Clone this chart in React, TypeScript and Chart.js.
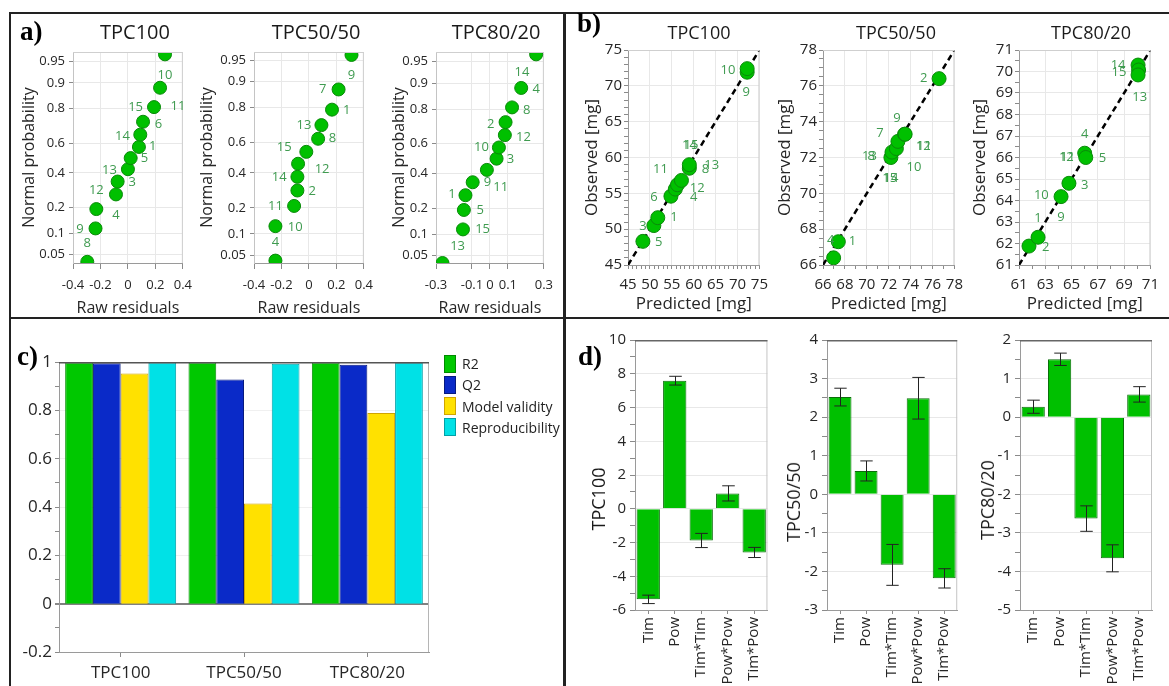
import { useEffect, useRef } from 'react';
import { Chart, registerables } from 'chart.js';

Chart.register(...registerables);

const FONT = "'Open Sans', 'Noto Sans', 'DejaVu Sans', sans-serif";
const SERIF = "'Liberation Serif', 'DejaVu Serif', serif";
const GREEN = '#00c000';
const GREEN_EDGE = '#0a8a0a';
const LABEL_GREEN = '#3f9b50';
const GRID = '#e8e8e8';
const AXIS = '#9a9a9a';
const TICK = '#8a8a8a';
const TXT = '#262626';

// ---------------- a) normal probability plots ----------------
const npTickZ = [-1.645, -1.282, -0.842, -0.253, 0.253, 0.842, 1.282, 1.645];
const npTickLabels = ['0.05', '0.1', '0.2', '0.4', '0.6', '0.8', '0.9', '0.95'];

const np100Resid = [-0.296, -0.236, -0.23, -0.087, -0.075, 0.0, 0.02, 0.08, 0.09, 0.11, 0.19, 0.234, 0.27];
const np100Quant = [-1.77, -1.2, -0.87, -0.62, -0.4, -0.19, 0, 0.19, 0.4, 0.62, 0.87, 1.2, 1.77];
const np100LabelText = ['10', '11', '15', '6', '14', '1', '5', '13', '3', '12', '4', '9', '8'];
const np100LabelX = [0.27, 0.365, 0.056, 0.222, -0.04, 0.18, 0.12, -0.134, 0.032, -0.23, -0.087, -0.35, -0.296];
const np100LabelZ = [1.41, 0.88, 0.86, 0.57, 0.37, 0.2, -0.01, -0.21, -0.42, -0.55, -0.98, -1.21, -1.45];

const np5050Resid = [-0.244, -0.244, -0.108, -0.084, -0.084, -0.079, -0.019, 0.067, 0.091, 0.168, 0.216, 0.31];
const np5050Quant = [-1.73, -1.15, -0.81, -0.55, -0.32, -0.1, 0.1, 0.32, 0.55, 0.81, 1.15, 1.73];
const np5050LabelText = ['9', '7', '1', '13', '8', '15', '12', '14', '2', '11', '10', '4'];
const np5050LabelX = [0.31, 0.1, 0.275, -0.036, 0.172, -0.18, 0.096, -0.216, 0.024, -0.244, -0.1, -0.244];
const np5050LabelZ = [1.38, 1.16, 0.8, 0.54, 0.32, 0.17, -0.19, -0.33, -0.57, -0.82, -1.17, -1.42];

const np8020Resid = [-0.264, -0.15, -0.145, -0.136, -0.096, -0.017, 0.037, 0.05, 0.083, 0.087, 0.123, 0.174, 0.257];
const np8020Quant = [-1.77, -1.2, -0.87, -0.62, -0.4, -0.19, 0, 0.19, 0.4, 0.62, 0.87, 1.2, 1.77];
const np8020LabelText = ['14', '4', '8', '2', '12', '10', '3', '9', '11', '1', '5', '15', '13'];
const np8020LabelX = [0.178, 0.257, 0.205, 0.005, 0.187, -0.047, 0.114, -0.014, 0.06, -0.211, -0.054, -0.041, -0.18];
const np8020LabelZ = [1.47, 1.17, 0.82, 0.59, 0.37, 0.2, -0.01, -0.4, -0.48, -0.61, -0.87, -1.2, -1.49];

const npXTicksWide = [-0.4, -0.2, 0, 0.2, 0.4];
const npXTicks8020 = [-0.3, -0.1, 0, 0.1, 0.3];

// ---------------- b) observed vs predicted ----------------
const op100Range = [45, 75];
const op100Pred = [48.4, 50.9, 51.8, 54.8, 55.8, 56.3, 57.2, 59.0, 59.0, 72.2, 72.2];
const op100Obs = [48.3, 50.5, 51.6, 54.6, 55.6, 56.2, 56.8, 58.5, 59.0, 71.9, 72.4];
const op100LabelText = ['10', '9', '14', '15', '11', '8', '13', '12', '4', '6', '1', '3', '5'];
const op100LabelX = [67.8, 72.0, 59.05, 59.4, 52.4, 62.7, 64.1, 60.8, 60.0, 50.9, 55.5, 48.4, 52.0];
const op100LabelY = [72.2, 69.05, 61.7, 61.7, 58.35, 58.4, 58.9, 55.7, 54.5, 54.5, 51.65, 50.45, 48.1];

const op5050Range = [66, 78];
const op5050Pred = [66.97, 67.4, 72.2, 72.3, 72.7, 72.84, 73.45, 73.5, 76.6];
const op5050Obs = [66.4, 67.3, 72.0, 72.3, 72.5, 72.9, 73.3, 73.3, 76.4];
const op5050LabelText = ['2', '9', '7', '12', '11', '13', '8', '10', '15', '14', '1', '4'];
const op5050LabelX = [75.2, 72.75, 71.2, 75.15, 75.25, 70.25, 70.4, 74.3, 72.1, 72.2, 68.7, 66.7];
const op5050LabelY = [76.4, 74.2, 73.35, 72.65, 72.65, 72.05, 72.05, 71.45, 70.84, 70.84, 67.3, 67.36];

const op8020Range = [61, 71];
const op8020Pred = [61.76, 62.45, 64.2, 64.8, 66.0, 66.08, 70.06, 70.1, 70.06];
const op8020Obs = [61.88, 62.29, 64.18, 64.8, 66.2, 66.0, 70.3, 70.07, 69.84];
const op8020LabelText = ['14', '15', '13', '4', '12', '11', '5', '3', '10', '9', '1', '2'];
const op8020LabelX = [68.54, 68.6, 70.19, 66.0, 64.6, 64.7, 67.35, 66.0, 62.7, 64.2, 62.45, 63.03];
const op8020LabelY = [70.3, 69.95, 68.8, 67.1, 66.0, 66.0, 65.96, 64.72, 64.26, 63.2, 63.17, 61.82];

// ---------------- c) summary of fit ----------------
const fitCategories = ['TPC100', 'TPC50/50', 'TPC80/20'];
const fitR2 = [0.998, 0.998, 0.998];
const fitQ2 = [0.995, 0.928, 0.989];
const fitModelValidity = [0.952, 0.414, 0.789];
const fitReproducibility = [0.998, 0.993, 0.997];
const fitSeriesNames = ['R2', 'Q2', 'Model validity', 'Reproducibility'];
const fitColors = ['#00c800', '#0a2ac8', '#ffe100', '#00e1e6'];
const fitEdges = ['#008a00', '#061a80', '#d0a400', '#00a0a8'];

// ---------------- d) coefficients ----------------
const coefTerms = ['Tim', 'Pow', 'Tim*Tim', 'Pow*Pow', 'Tim*Pow'];
const coef100 = [-5.37, 7.59, -1.88, 0.91, -2.59];
const coef100Err = [0.25, 0.26, 0.42, 0.45, 0.3];
const coef5050 = [2.52, 0.605, -1.83, 2.49, -2.18];
const coef5050Err = [0.23, 0.26, 0.53, 0.54, 0.25];
const coef8020 = [0.27, 1.5, -2.63, -3.66, 0.59];
const coef8020Err = [0.17, 0.16, 0.33, 0.35, 0.2];

// ---------------- helpers ----------------
type Geom = { left: number; top: number; width: number; height: number; yWidth: number; xHeight: number; padTop: number; padRight: number };

function geom(pl: number, pt: number, pr: number, pb: number, L: number, B: number, padTop = 20, padRight = 15): Geom {
  const top = pt - padTop;
  return { left: L, top, width: pr + padRight - L, height: B - top, yWidth: pl - L, xHeight: B - pb, padTop, padRight };
}

const fmt = (v: number) => String(Number(Number(v).toFixed(3)));
const isMajor = (v: number, base: number, every: number) => {
  const k = (v - base) / every;
  return Math.abs(k - Math.round(k)) < 1e-6;
};

function plotBox(side: string, top: string, topWidth = 1) {
  return {
    id: 'plotBox',
    beforeDatasetsDraw(chart: any) {
      const { ctx, chartArea: a } = chart;
      ctx.save();
      ctx.lineWidth = 1;
      ctx.strokeStyle = side;
      ctx.beginPath();
      ctx.moveTo(a.right - 0.5, a.top);
      ctx.lineTo(a.right - 0.5, a.bottom);
      ctx.stroke();
      ctx.restore();
    },
    afterDatasetsDraw(chart: any) {
      const { ctx, chartArea: a } = chart;
      ctx.save();
      ctx.lineWidth = topWidth;
      ctx.strokeStyle = top;
      ctx.beginPath();
      ctx.moveTo(a.left, a.top + topWidth / 2);
      ctx.lineTo(a.right, a.top + topWidth / 2);
      ctx.stroke();
      ctx.restore();
    },
  };
}

function textLabels(xs: number[], ys: number[], texts: string[], size: number) {
  return {
    id: 'textLabels',
    afterDatasetsDraw(chart: any) {
      const { ctx, scales } = chart;
      ctx.save();
      ctx.fillStyle = LABEL_GREEN;
      ctx.font = `${size}px ${FONT}`;
      ctx.textAlign = 'center';
      ctx.textBaseline = 'middle';
      texts.forEach((t, i) => {
        ctx.fillText(t, scales.x.getPixelForValue(xs[i]), scales.y.getPixelForValue(ys[i]));
      });
      ctx.restore();
    },
  };
}

function errorBars(vals: number[], errs: number[]) {
  return {
    id: 'errorBars',
    afterDatasetsDraw(chart: any) {
      const { ctx, scales } = chart;
      const meta = chart.getDatasetMeta(0);
      ctx.save();
      ctx.strokeStyle = '#222';
      ctx.lineWidth = 1;
      meta.data.forEach((bar: any, i: number) => {
        const x = Math.round(bar.x) + 0.5;
        const y1 = scales.y.getPixelForValue(vals[i] + errs[i]);
        const y2 = scales.y.getPixelForValue(vals[i] - errs[i]);
        const hw = bar.width * 0.27;
        ctx.beginPath();
        ctx.moveTo(x, y1);
        ctx.lineTo(x, y2);
        ctx.moveTo(x - hw, y1);
        ctx.lineTo(x + hw, y1);
        ctx.moveTo(x - hw, y2);
        ctx.lineTo(x + hw, y2);
        ctx.stroke();
      });
      ctx.restore();
    },
  };
}

function minorLinear(min: number, max: number, step: number, every: number, size: number) {
  return {
    type: 'linear',
    min,
    max,
    ticks: {
      stepSize: step,
      autoSkip: false,
      maxRotation: 0,
      minRotation: 0,
      font: { family: FONT, size },
      color: TXT,
      callback: (v: number) => (isMajor(v, min, every) ? fmt(v) : ''),
    },
    grid: {
      color: (c: any) => (c.tick && isMajor(c.tick.value, min, every) ? GRID : 'rgba(0,0,0,0)'),
      tickColor: TICK,
      tickLength: 4,
    },
    border: { color: AXIS },
  };
}

const baseOptions = (g: Geom) => ({
  animation: false,
  responsive: false,
  events: [],
  layout: { padding: { top: g.padTop, right: g.padRight, left: 0, bottom: 0 } },
  plugins: { legend: { display: false }, tooltip: { enabled: false }, title: { display: false } },
});

function npConfig(g: Geom, resid: number[], quant: number[], lx: number[], lz: number[], lt: string[], xMin: number, xMax: number, xTicks: number[], yMin: number, yMax: number) {
  return {
    type: 'scatter',
    data: {
      datasets: [
        { data: resid.map((x, i) => ({ x, y: quant[i] })), backgroundColor: GREEN, borderColor: GREEN_EDGE, borderWidth: 1, pointRadius: 6.5, clip: 0 },
      ],
    },
    options: {
      ...baseOptions(g),
      scales: {
        x: {
          type: 'linear',
          min: xMin,
          max: xMax,
          afterBuildTicks: (s: any) => { s.ticks = xTicks.map((v) => ({ value: v })); },
          afterFit: (s: any) => { s.height = g.xHeight; },
          grid: { color: GRID, tickColor: TICK, tickLength: 6 },
          border: { color: AXIS },
          ticks: { font: { family: FONT, size: 13 }, color: TXT, padding: 8, maxRotation: 0, autoSkip: false, callback: (v: number) => fmt(v) },
          title: { display: true, text: 'Raw residuals', font: { family: FONT, size: 16 }, color: TXT, padding: 0 },
        },
        y: {
          type: 'linear',
          min: yMin,
          max: yMax,
          afterBuildTicks: (s: any) => { s.ticks = npTickZ.map((v) => ({ value: v })); },
          afterFit: (s: any) => { s.width = g.yWidth; },
          grid: { color: GRID, tickColor: TICK, tickLength: 4 },
          border: { color: '#c4c4c4' },
          ticks: { font: { family: FONT, size: 13 }, color: TXT, padding: 4, autoSkip: false, callback: (_v: number, i: number) => npTickLabels[i] },
          title: { display: true, text: 'Normal probability', font: { family: FONT, size: 16 }, color: TXT, padding: 0 },
        },
      },
    },
    plugins: [plotBox('#cfcfcf', '#cfcfcf'), textLabels(lx, lz, lt, 13)],
  };
}

function opConfig(g: Geom, pred: number[], obs: number[], lx: number[], ly: number[], lt: string[], range: number[], xStep: number, xEvery: number, yStep: number, yEvery: number) {
  const xs: any = minorLinear(range[0], range[1], xStep, xEvery, 15);
  const ys: any = minorLinear(range[0], range[1], yStep, yEvery, 15);
  return {
    type: 'scatter',
    data: {
      datasets: [
        { data: pred.map((x, i) => ({ x, y: obs[i] })), backgroundColor: GREEN, borderColor: GREEN_EDGE, borderWidth: 1, pointRadius: 7 },
        {
          data: [{ x: range[0], y: range[0] }, { x: range[1], y: range[1] }],
          showLine: true,
          borderColor: '#000',
          borderWidth: 2.5,
          borderDash: [6, 4],
          pointRadius: 0,
          fill: false,
        },
      ],
    },
    options: {
      ...baseOptions(g),
      scales: {
        x: {
          ...xs,
          afterFit: (s: any) => { s.height = g.xHeight; },
          ticks: { ...xs.ticks, padding: 7 },
          title: { display: true, text: 'Predicted [mg]', font: { family: FONT, size: 17 }, color: TXT, padding: 0 },
        },
        y: {
          ...ys,
          afterFit: (s: any) => { s.width = g.yWidth; },
          ticks: { ...ys.ticks, padding: 2 },
          title: { display: true, text: 'Observed [mg]', font: { family: FONT, size: 17 }, color: TXT, padding: 0 },
        },
      },
    },
    plugins: [plotBox('#cfcfcf', '#cfcfcf'), textLabels(lx, ly, lt, 13)],
  };
}

function fitConfig(g: Geom) {
  const series = [fitR2, fitQ2, fitModelValidity, fitReproducibility];
  const ys: any = minorLinear(-0.2, 1, 0.1, 0.2, 17);
  return {
    type: 'bar',
    data: {
      labels: fitCategories,
      datasets: series.map((d, i) => ({
        label: fitSeriesNames[i],
        data: d,
        backgroundColor: fitColors[i],
        borderColor: fitEdges[i],
        borderWidth: 1,
        barPercentage: 1,
        categoryPercentage: 0.9,
      })),
    },
    options: {
      ...baseOptions(g),
      scales: {
        x: {
          afterFit: (s: any) => { s.height = g.xHeight; },
          grid: { drawOnChartArea: false, offset: false, tickColor: TICK, tickLength: 5 },
          border: { color: AXIS },
          ticks: { font: { family: FONT, size: 17 }, color: TXT, padding: 6, maxRotation: 0 },
        },
        y: {
          ...ys,
          afterFit: (s: any) => { s.width = g.yWidth; },
          ticks: { ...ys.ticks, padding: 3 },
          grid: {
            color: (c: any) => {
              if (!c.tick) return 'rgba(0,0,0,0)';
              const v = c.tick.value;
              if (Math.abs(v) < 1e-6) return '#808080';
              return isMajor(v, -0.2, 0.2) ? '#f0f0f0' : 'rgba(0,0,0,0)';
            },
            lineWidth: (c: any) => (c.tick && Math.abs(c.tick.value) < 1e-6 ? 2 : 1),
            tickColor: TICK,
            tickLength: 4,
          },
        },
      },
    },
    plugins: [plotBox('#b5b5b5', '#555555', 1.5)],
  };
}

function coefConfig(g: Geom, vals: number[], errs: number[], min: number, max: number, step: number, every: number) {
  const ys: any = minorLinear(min, max, step, every, 15);
  return {
    type: 'bar',
    data: {
      labels: coefTerms,
      datasets: [
        { data: vals, backgroundColor: GREEN, borderColor: '#0b6e0b', borderWidth: 1, barPercentage: 0.88, categoryPercentage: 1 },
      ],
    },
    options: {
      ...baseOptions(g),
      scales: {
        x: {
          afterFit: (s: any) => { s.height = g.xHeight; },
          grid: { drawOnChartArea: false, offset: false, tickColor: TICK, tickLength: 4 },
          border: { color: AXIS },
          ticks: { font: { family: FONT, size: 15 }, color: TXT, padding: 3, minRotation: 90, maxRotation: 90, autoSkip: false },
        },
        y: {
          ...ys,
          afterFit: (s: any) => { s.width = g.yWidth; },
          ticks: { ...ys.ticks, padding: 4 },
          grid: { ...ys.grid, tickLength: 5 },
        },
      },
    },
    plugins: [plotBox('#c4c4c4', '#666666', 1.5), errorBars(vals, errs)],
  };
}

function ChartCanvas({ g, make }: { g: Geom; make: (g: Geom) => any }) {
  const ref = useRef<HTMLCanvasElement>(null);
  useEffect(() => {
    const chart = new Chart(ref.current as HTMLCanvasElement, make(g));
    return () => chart.destroy();
  }, []);
  return (
    <canvas
      ref={ref}
      width={g.width}
      height={g.height}
      style={{ position: 'absolute', left: g.left, top: g.top, width: g.width, height: g.height }}
    />
  );
}

function Text({ x, y, size, children, rotate, bold, family }: any) {
  return (
    <div
      style={{
        position: 'absolute',
        left: x,
        top: y,
        transform: `translate(-50%, -50%)${rotate ? ' rotate(-90deg)' : ''}`,
        fontSize: size,
        fontFamily: family || FONT,
        fontWeight: bold ? 700 : 400,
        color: '#1a1a1a',
        whiteSpace: 'nowrap',
        lineHeight: 1,
      }}
    >
      {children}
    </div>
  );
}

function Line({ l, t, w, h }: { l: number; t: number; w: number; h: number }) {
  return <div style={{ position: 'absolute', left: l, top: t, width: w, height: h, background: '#222' }} />;
}

// geometries (plot areas in page pixels)
const gA1 = geom(73, 52, 185, 263, 20, 318);
const gA2 = geom(254, 52, 366, 263, 198, 318);
const gA3 = geom(436, 52, 546, 263, 390, 318);
const gB1 = geom(628, 50, 760, 265, 582, 314);
const gB2 = geom(823, 50, 955, 265, 775, 314);
const gB3 = geom(1019, 50, 1151, 265, 970, 314);
const gC = geom(59, 362, 429, 652, 10, 686, 20, 20);
const gD1 = geom(635, 340, 768, 610, 600, 686, 20, 8);
const gD2 = geom(827, 340, 958, 610, 790, 686, 20, 8);
const gD3 = geom(1020, 340, 1152, 610, 985, 686, 20, 10);

export default function App() {
  return (
    <div style={{ position: 'fixed', left: 0, top: 0, width: 1169, height: 686, background: '#fff', overflow: 'hidden', fontFamily: FONT }}>
      <ChartCanvas g={gA1} make={(g) => npConfig(g, np100Resid, np100Quant, np100LabelX, np100LabelZ, np100LabelText, -0.4, 0.4, npXTicksWide, -1.79, 1.81)} />
      <ChartCanvas g={gA2} make={(g) => npConfig(g, np5050Resid, np5050Quant, np5050LabelX, np5050LabelZ, np5050LabelText, -0.4, 0.4, npXTicksWide, -1.77, 1.78)} />
      <ChartCanvas g={gA3} make={(g) => npConfig(g, np8020Resid, np8020Quant, np8020LabelX, np8020LabelZ, np8020LabelText, -0.3, 0.3, npXTicks8020, -1.77, 1.81)} />

      <ChartCanvas g={gB1} make={(g) => opConfig(g, op100Pred, op100Obs, op100LabelX, op100LabelY, op100LabelText, op100Range, 1, 5, 1, 5)} />
      <ChartCanvas g={gB2} make={(g) => opConfig(g, op5050Pred, op5050Obs, op5050LabelX, op5050LabelY, op5050LabelText, op5050Range, 1, 2, 0.5, 2)} />
      <ChartCanvas g={gB3} make={(g) => opConfig(g, op8020Pred, op8020Obs, op8020LabelX, op8020LabelY, op8020LabelText, op8020Range, 1, 2, 0.5, 1)} />

      <ChartCanvas g={gC} make={(g) => fitConfig(g)} />

      <ChartCanvas g={gD1} make={(g) => coefConfig(g, coef100, coef100Err, -6, 10, 1, 2)} />
      <ChartCanvas g={gD2} make={(g) => coefConfig(g, coef5050, coef5050Err, -3, 4, 0.5, 1)} />
      <ChartCanvas g={gD3} make={(g) => coefConfig(g, coef8020, coef8020Err, -5, 2, 0.5, 1)} />

      <Line l={10} t={12} w={1159} h={2} />
      <Line l={10} t={317} w={1159} h={2} />
      <Line l={9} t={12} w={2} h={674} />
      <Line l={563} t={12} w={3} h={674} />

      {/* panel titles */}
      <Text x={135} y={32} size={20}>TPC100</Text>
      <Text x={316} y={32} size={20}>TPC50/50</Text>
      <Text x={496} y={32} size={20}>TPC80/20</Text>
      <Text x={699} y={32} size={18}>TPC100</Text>
      <Text x={896} y={32} size={18}>TPC50/50</Text>
      <Text x={1091} y={32} size={18}>TPC80/20</Text>

      {/* d) axis titles */}
      <Text x={598} y={499} size={18} rotate>TPC100</Text>
      <Text x={793} y={502} size={18} rotate>TPC50/50</Text>
      <Text x={987} y={500} size={18} rotate>TPC80/20</Text>

      {/* panel letters */}
      <div style={{ position: 'absolute', left: 20, top: 18, fontFamily: SERIF, fontWeight: 700, fontSize: 27, lineHeight: 1 }}>a)</div>
      <div style={{ position: 'absolute', left: 577, top: 10, fontFamily: SERIF, fontWeight: 700, fontSize: 27, lineHeight: 1 }}>b)</div>
      <div style={{ position: 'absolute', left: 17, top: 343, fontFamily: SERIF, fontWeight: 700, fontSize: 27, lineHeight: 1 }}>c)</div>
      <div style={{ position: 'absolute', left: 578, top: 343, fontFamily: SERIF, fontWeight: 700, fontSize: 27, lineHeight: 1 }}>d)</div>

      {/* c) legend */}
      {fitSeriesNames.map((n, i) => (
        <div key={n} style={{ position: 'absolute', left: 444, top: 355 + i * 21.3, height: 17, display: 'flex', alignItems: 'center' }}>
          <div style={{ width: 10, height: 16, background: fitColors[i], border: `1px solid ${fitEdges[i]}` }} />
          <div style={{ marginLeft: 6, fontSize: 14, color: '#222', fontFamily: FONT, whiteSpace: 'nowrap' }}>{n}</div>
        </div>
      ))}
    </div>
  );
}
